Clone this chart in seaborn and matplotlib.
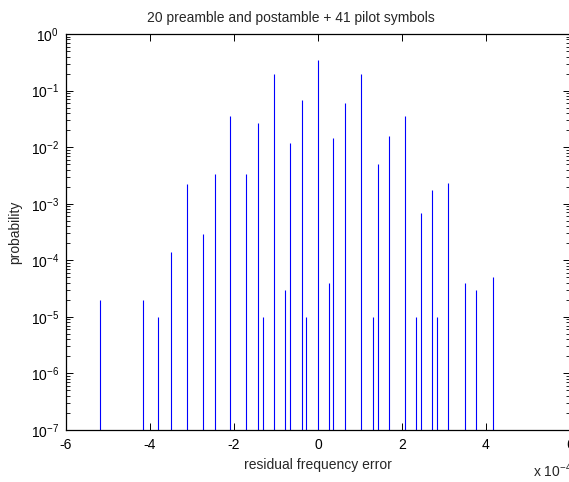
import matplotlib
matplotlib.use("Agg")
import matplotlib.pyplot as plt
import matplotlib.ticker as mticker
import seaborn as sns
import numpy as np

# residual frequency error (in units of 1e-4)
freq_err = [-5.195, -4.171, -3.798, -3.505, -3.124, -2.733, -2.464, -2.100,
            -1.710, -1.433, -1.321, -1.052, -0.774, -0.655, -0.386, -0.274,
            0.0, 0.257, 0.369, 0.638, 1.029, 1.314, 1.417, 1.702,
            2.067, 2.329, 2.448, 2.719, 2.829, 3.107, 3.495, 3.767, 4.162]
probability = [2e-5, 2e-5, 1e-5, 1.4e-4, 2.2e-3, 2.9e-4, 3.3e-3, 0.036,
               3.3e-3, 0.0266, 1e-5, 0.194, 3e-5, 0.0118, 0.068, 1e-5,
               0.347, 4e-5, 0.0143, 0.060, 0.194, 1e-5, 5.0e-3, 0.0157,
               0.0354, 1e-5, 6.9e-4, 1.78e-3, 1e-5, 2.37e-3, 4e-5, 3e-5, 5e-5]

title = "20 preamble and postamble + 41 pilot symbols"
x_label = "residual frequency error"
y_label = "probability"
x_ticks = [-6, -4, -2, 0, 2, 4, 6]
y_exps = [0, -1, -2, -3, -4, -5, -6, -7]

sns.set_style("white")
plt.rcParams['font.family'] = ['Liberation Sans', 'DejaVu Sans']
plt.rcParams['mathtext.fontset'] = 'custom'
plt.rcParams['mathtext.rm'] = 'Liberation Sans'
plt.rcParams['mathtext.it'] = 'Liberation Sans'
plt.rcParams['mathtext.default'] = 'regular'

fig = plt.figure(figsize=(5.69, 4.82), dpi=100)
ax = fig.add_axes([66 / 569, 1 - 430 / 482, 504 / 569, 396 / 482])

ymin = 1e-7
ax.vlines(freq_err, ymin, probability, colors="#0000ff", linewidth=0.8)

ax.set_yscale("log")
ax.set_ylim(ymin, 1)
ax.set_xlim(-6, 6)

ax.set_xticks(x_ticks)
ax.set_xticklabels([str(t) for t in x_ticks])
ax.set_yticks([10.0 ** e for e in y_exps])
ax.set_yticklabels([r"$10^{%d}$" % e for e in y_exps])
ax.yaxis.set_minor_locator(mticker.LogLocator(base=10, subs=np.arange(2, 10), numticks=20))
ax.yaxis.set_minor_formatter(mticker.NullFormatter())

ax.tick_params(axis="both", which="both", direction="in", top=True, right=True,
               left=True, bottom=True, labelsize=10, colors="black")
ax.tick_params(axis="x", which="major", length=5, width=0.7, pad=6)
ax.tick_params(axis="y", which="major", length=5, width=0.7, pad=5)
ax.tick_params(axis="y", which="minor", length=3, width=0.6)

for s in ax.spines.values():
    s.set_color("black")
    s.set_linewidth(0.9)
    s.set_visible(True)

ax.set_title(title, fontsize=10, pad=9, x=(291 - 66) / 504)
ax.set_xlabel(x_label, fontsize=10, labelpad=4)
ax.set_ylabel(y_label, fontsize=10, labelpad=6)

fig.text(533 / 569, 1 - 471 / 482, r"x $10^{-4}$", fontsize=10, ha="left", va="center")

fig.savefig("out.png", dpi=100)
